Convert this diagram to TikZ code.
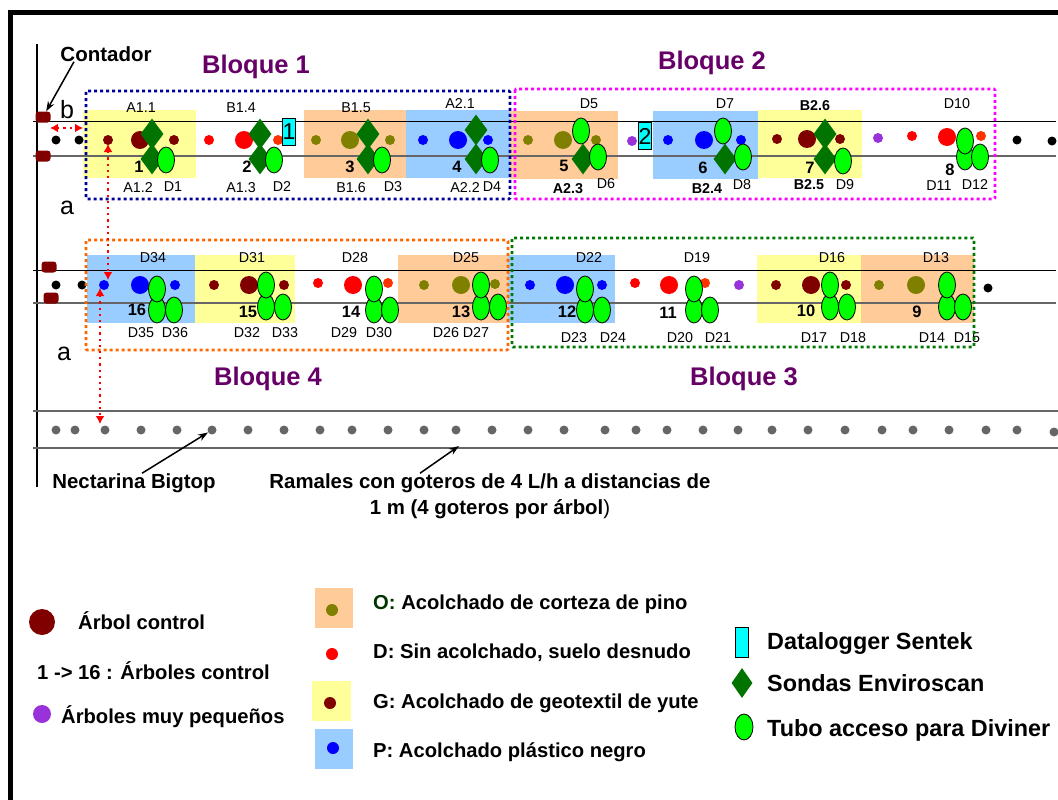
\documentclass[tikz,border=0pt]{standalone}
\usepackage{fontspec}
\setmainfont{Liberation Sans}
\usetikzlibrary{shapes.geometric, arrows.meta}

\definecolor{amarillo}{HTML}{FFFF99}
\definecolor{naranja}{HTML}{FFCC99}
\definecolor{azul}{HTML}{99CCFF}
\definecolor{granate}{HTML}{800000}
\definecolor{oliva}{HTML}{808000}
\definecolor{rojizo}{HTML}{FF3300}
\definecolor{morado}{HTML}{9933D9}
\definecolor{titulo}{HTML}{660066}
\definecolor{sonda}{HTML}{007300}
\definecolor{tubo}{HTML}{00FF00}
\definecolor{cian}{HTML}{00FFFF}
\definecolor{gris}{HTML}{666666}
\definecolor{marino}{HTML}{000099}
\definecolor{fucsia}{HTML}{FF00FF}
\definecolor{verdezona}{HTML}{007700}
\definecolor{naranjazona}{HTML}{FF6600}
\definecolor{rojo}{HTML}{FF0000}
\definecolor{azulo}{HTML}{0000FF}

\tikzset{
  arbol/.style={circle, inner sep=0pt},
  sondaenv/.style={diamond, fill=sonda, inner sep=0pt, minimum width=23pt, minimum height=31pt},
  tuboacc/.style={ellipse, draw=black, line width=.8pt, fill=tubo, inner sep=0pt, minimum width=17pt, minimum height=26pt},
  logger/.style={rectangle, draw=black, line width=.8pt, fill=cian, inner sep=0pt, minimum width=13pt, minimum height=27pt, font=\fontsize{23}{23}\selectfont},
  contador/.style={rectangle, rounded corners=3pt, fill=granate, inner sep=0pt, minimum width=15pt, minimum height=11pt},
  zona/.style={line width=2.8pt, dash pattern=on 3pt off 3pt},
  bloque/.style={inner sep=0pt, text=titulo, font=\fontsize{25.5}{25.5}\selectfont\bfseries},
  rotulo/.style={inner sep=0pt, font=\fontsize{14.3}{14.3}\selectfont},
  rotulob/.style={inner sep=0pt, font=\fontsize{14.3}{14.3}\selectfont\bfseries},
  numero/.style={inner sep=0pt, font=\fontsize{16.5}{16.5}\selectfont\bfseries},
  letra/.style={inner sep=0pt, font=\fontsize{25}{25}\selectfont},
  negrita/.style={inner sep=0pt, font=\fontsize{20.4}{20.4}\selectfont\bfseries},
  leyenda/.style={inner sep=0pt, anchor=west, font=\fontsize{20.2}{20.2}\selectfont\bfseries},
  leyendag/.style={inner sep=0pt, anchor=west, font=\fontsize{23.4}{23.4}\selectfont\bfseries},
  flecha/.style={-{Stealth[length=10pt, width=7pt]}, line width=1.5pt},
  medida/.style={{Latex[length=8pt, width=9pt]}-{Latex[length=8pt, width=9pt]}, rojo, line width=2.2pt, dash pattern=on 2.2pt off 4pt}
}

\begin{document}
\begin{tikzpicture}[x=1pt, y=-1pt]
    \useasboundingbox (0,0) rectangle (1058,800);

    % Frame
    \fill[black] (8,10) rectangle (1058,15);
    \fill[black] (8,10) rectangle (13,800);
    \draw[line width=1.2pt] (37,44) -- (37,487);

    % Mulch bands
    \foreach \xa/\ya/\xb/\yb/\col in {83/110/196/178/amarillo, 304/110/406/178/naranja, 406/110/510/178/azul,
        510/111/618/179/naranja, 653/111/758/179/azul, 758/110/862/178/amarillo,
        87/255/195/323/azul, 195/255/295/323/amarillo, 398/255/508/323/naranja,
        508/255/615/323/azul, 757/255/861/323/amarillo, 861/255/974/323/naranja}
        \fill[\col] (\xa,\ya) rectangle (\xb,\yb);

    % Rows
    \draw[line width=.8pt] (33,121) -- (1056,121);
    \draw[gris, line width=1.3pt] (33,156) -- (1056,156);
    \draw[line width=.8pt] (33,270) -- (1056,270);
    \draw[gris, line width=1.3pt] (33,303) -- (1056,303);
    \draw[gris, line width=1.2pt] (33,411) -- (1058,411);
    \draw[gris, line width=1.2pt] (33,448) -- (1058,448);

    % Meters
    \node[contador] (cont1) at (43,117) {};
    \node[contador] (cont2) at (43,156) {};
    \node[contador] (cont3) at (49,267) {};
    \node[contador] (cont4) at (51,298) {};

    % Trees, row 1
    \foreach \x/\y/\col/\d [count=\n] in {56/140/black/9, 79/140/black/9, 108/140/granate/10, 140/140/granate/18, 174/140/granate/10,
        209/140/rojo/10, 244/140/rojo/18, 278/140/rojizo/10, 316/140/oliva/10, 350/140/oliva/18, 390/140/oliva/10,
        423/140/azulo/10, 458/140/azulo/18, 488/140/azulo/10, 528/140/oliva/10, 563/140/oliva/18, 596/140/oliva/10,
        632/141/morado/10, 668/140/azulo/10, 704/140/azulo/18, 741/140/azulo/10, 777/139/granate/10, 807/139/granate/18, 840/139/granate/10,
        878/138/morado/10, 912/136/rojo/10, 947/137/rojo/18, 981/136/rojizo/10, 1017/140/black/9, 1052/141/black/9}
        \node[arbol, fill=\col, minimum size=\d pt] (a\n) at (\x,\y) {};

    % Trees, row 2
    \foreach \x/\y/\col/\d [count=\n] in {56/285/black/9, 82/285/black/9, 104/285/azulo/10, 140/285/azulo/18, 175/285/azulo/10,
        214/285/granate/10, 249/285/granate/18, 284/285/granate/10, 318/283/rojo/10, 353/285/rojo/18, 388/283/rojizo/10,
        424/285/oliva/10, 461/285/oliva/18, 495/284/oliva/10, 530/285/azulo/10, 565/285/azulo/18, 602/285/azulo/10,
        635/283/rojo/10, 669/285/rojo/18, 705/283/rojizo/10, 739/285/morado/10, 776/285/granate/10, 811/285/granate/18, 846/285/granate/10,
        879/285/oliva/10, 916/285/oliva/18, 988/288/black/9}
        \node[arbol, fill=\col, minimum size=\d pt] (b\n) at (\x,\y) {};

    % Trees, row 3
    \foreach \x [count=\n] in {56,75,105,141,177,212,248,284,320,352,388,424,456,492,528,564,605,636,667,703,738,772,808,845,882,913,949,986,1017}
        \node[arbol, fill=gris, minimum size=9pt] (c\n) at (\x,430) {};
    \node[arbol, fill=gris, minimum size=9pt] (c30) at (1054,432) {};

    % Enviroscan probes
    \foreach \x/\y [count=\n] in {152/134, 152/159, 260/134, 260/159, 368/134, 368/159, 476/130, 476/159, 583/159, 725/159, 825/134, 825/159}
        \node[sondaenv] (s\n) at (\x,\y) {};

    % Diviner tubes
    \foreach \x/\y [count=\n] in {166/160, 274/160, 382/160, 490/160, 581/131, 598/157, 723/131, 743/157, 843/161, 965/157, 980/157, 965/141,
        157/310, 174/310, 157/289, 266/307, 283/307, 266/285, 374/310, 390/310, 374/289, 481/307, 498/307, 481/285,
        585/310, 602/310, 585/289, 694/310, 710/310, 694/289, 830/307, 847/307, 830/285, 947/307, 963/307, 947/285}
        \node[tuboacc] (t\n) at (\x,\y) {};

    % Dataloggers
    \node[logger] (log1) at (289,132) {1};
    \node[logger] (log2) at (645,136) {2};

    % Tree numbers
    \foreach \x/\y/\t in {139/167/1, 247/167/2, 350/167/3, 457/167/4, 564/166/5, 703/168/6, 810/168/7, 950/170/8,
        917/312/9, 806/311/10, 668/313/11, 567/312/12, 461/312/13, 351/312/14, 248/312/15, 137/310/16}
        \node[numero] (n\t) at (\x,\y) {\t};

    % Probe and tube labels
    \foreach \x/\y/\t [count=\n] in {141/108/A1.1, 138/188/A1.2, 173/187/D1, 241/108/B1.4, 241/188/A1.3, 282/187/D2, 356/108/B1.5, 351/188/B1.6, 393/187/D3,
        460/104/A2.1, 465/188/A2.2, 492/187/D4, 589/104/D5, 606/184/D6, 725/104/D7, 742/185/D8, 845/185/D9, 957/104/D10, 939/186/D11, 975/185/D12,
        936/258/D13, 932/338/D14, 967/338/D15, 832/258/D16, 814/338/D17, 853/338/D18, 697/258/D19, 680/338/D20, 718/338/D21,
        589/258/D22, 574/338/D23, 613/338/D24, 466/258/D25, 446/333/D26, 476/333/D27, 355/258/D28, 344/333/D29, 379/333/D30,
        252/258/D31, 247/333/D32, 285/333/D33, 153/258/D34, 141/333/D35, 175/333/D36}
        \node[rotulo] (r\n) at (\x,\y) {\t};
    \foreach \x/\y/\t [count=\n] in {568/189/A2.3, 707/189/B2.4, 809/185/B2.5, 815/106/B2.6}
        \node[rotulob] (q\n) at (\x,\y) {\t};

    % Blocks
    \draw[zona, marino, rounded corners=1pt] (86,91) rectangle (510,199);
    \draw[zona, fucsia, rounded corners=1pt] (515,89) rectangle (995,199);
    \draw[zona, naranjazona, rounded corners=1pt] (86,240) rectangle (508,350);
    \draw[zona, verdezona, rounded corners=1pt] (512,238) rectangle (974,347);
    \node[bloque] (bl1) at (256,67) {Bloque 1};
    \node[bloque] (bl2) at (712,63) {Bloque 2};
    \node[bloque] (bl3) at (744,379) {Bloque 3};
    \node[bloque] (bl4) at (268,379) {Bloque 4};

    % Row spacing
    \node[letra] (letb) at (67,110) {b};
    \node[letra] (leta1) at (67,208) {a};
    \node[letra] (leta2) at (64,354) {a};
    \coordinate (ma) at (50,128);
    \coordinate (mb) at (83,128);
    \coordinate (mc) at (108,144);
    \coordinate (md) at (108,280);
    \coordinate (me) at (100,288);
    \coordinate (mf) at (100,424);
    \draw[medida] (ma) -- (mb);
    \draw[medida] (mc) -- (md);
    \draw[medida] (me) -- (mf);

    % Callouts
    \node[inner sep=0pt, font=\fontsize{20.5}{20.5}\selectfont\bfseries] (cont) at (106,54) {Contador};
    \draw[flecha] ([xshift=-32pt]cont.south) -- (cont1);
    \node[negrita] (nect) at (134,483) {Nectarina Bigtop};
    \draw[flecha] ([xshift=8pt]nect.north) -- (c6);
    \node[negrita] (ram1) at (490,483) {Ramales con goteros de 4 L/h a distancias de};
    \node[negrita] (ram2) at (490,509) {1 m (4 goteros por árbol\textmd{)}};
    \coordinate (ramal) at (459,446);
    \draw[flecha] ([xshift=-70pt]ram1.north) -- (ramal);

    % Legend, left
    \node[arbol, fill=granate, minimum size=26pt] (lg1) at (42,622) {};
    \node[leyenda] (lt1) at (78,621) {Árbol control};
    \node[leyenda] (lt2) at (37,671) {1 -> 16 : Árboles control};
    \node[arbol, fill=morado, minimum size=18pt] (lg2) at (42,714) {};
    \node[leyenda] (lt3) at (61,717) {Árboles muy pequeños};

    % Legend, mulch
    \fill[naranja] (315,588) rectangle (353,628);
    \node[arbol, fill=oliva, minimum size=12pt] (lm1) at (332,610) {};
    \node[leyenda] (lm1t) at (373,604) {\textcolor[HTML]{003300}{O:} Acolchado de corteza de pino};
    \node[arbol, fill=rojo, minimum size=12pt] (lm2) at (332,654) {};
    \node[leyenda] (lm2t) at (373,653) {D: Sin acolchado, suelo desnudo};
    \fill[amarillo] (312,681) rectangle (351,721);
    \node[arbol, fill=granate, minimum size=12pt] (lm3) at (330,703) {};
    \node[leyenda] (lm3t) at (373,703) {G: Acolchado de geotextil de yute};
    \fill[azul] (315,729) rectangle (353,769);
    \node[arbol, fill=azulo, minimum size=12pt] (lm4) at (333,748) {};
    \node[leyenda] (lm4t) at (373,752) {P: Acolchado plástico negro};

    % Legend, instruments
    \node[logger, minimum height=30pt] (li1) at (742,642) {};
    \node[leyendag] (li1t) at (767,643) {Datalogger Sentek};
    \node[sondaenv, minimum width=21pt, minimum height=30pt] (li2) at (742,683) {};
    \node[leyendag] (li2t) at (767,683) {Sondas Enviroscan};
    \node[tuboacc, minimum width=18pt] (li3) at (744,727) {};
    \node[leyendag] (li3t) at (767,730) {Tubo acceso para Diviner};
\end{tikzpicture}
\end{document}
